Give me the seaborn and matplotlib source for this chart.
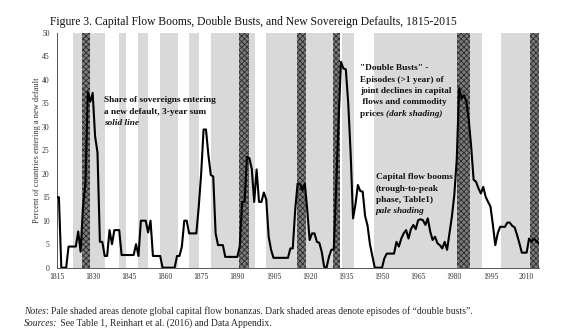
import matplotlib
matplotlib.use("Agg")
import matplotlib.pyplot as plt
import seaborn as sns
import numpy as np
import pandas as pd

# ---------------- data ----------------
start_year = 1815
share_new_default = [
    15, 15, 0, 0, 0, 4.5, 4.5, 4.5, 4.5, 7.7,            # 1815-1824
    3.4, 13, 18, 37.4, 35.3, 37.2, 28, 24.5, 5.5, 5.5,    # 1825-1834
    2.5, 2.5, 8, 5, 8, 8, 8, 2.7, 2.7, 2.7,               # 1835-1844
    2.7, 2.7, 2.7, 5, 2.5, 10, 10, 10, 7.5, 10,           # 1845-1854
    2.5, 2.5, 2.5, 2.5, 0, 0, 0, 0, 0, 0,                 # 1855-1864
    2.5, 2.5, 4.5, 10, 10, 7.3, 7.3, 7.3, 7.3, 13,        # 1865-1874
    20, 29.4, 29.4, 24, 19.7, 19.4, 7.3, 4.8, 4.8, 4.8,   # 1875-1884
    2.3, 2.3, 2.3, 2.3, 2.3, 2.3, 4.5, 14, 14, 23.6,      # 1885-1894
    23.3, 21, 14, 20.9, 14, 14, 16, 14.5, 6.6, 3.8,       # 1895-1904
    2.1, 2.1, 2.1, 2.1, 2.1, 2.1, 2.1, 4.1, 4.1, 12.3,    # 1905-1914
    17.9, 17.8, 16.5, 17.9, 12.3, 5.9, 7.3, 7.3, 5.5, 5.3,  # 1915-1924
    3.4, 0.2, 0, 2.3, 3.8, 3.9, 17.2, 31.4, 43.8, 42.4,   # 1925-1934
    42.2, 35, 24.3, 10.5, 13.5, 17.6, 16.3, 16.2, 11, 9,  # 1935-1944
    5, 2.5, 0, 0, 0, 0, 2, 3, 3, 3,                       # 1945-1954
    3, 5.5, 4.5, 6.2, 7.3, 8, 6.2, 8.2, 9.1, 8.2,         # 1955-1964
    10.1, 10.3, 10.1, 9.1, 10.5, 7.7, 5.9, 6.6, 5.2, 4.8, # 1965-1974
    4.1, 5.5, 3.8, 7.3, 10.9, 15.5, 22.9, 38.2, 36, 36.7, # 1975-1984
    35.3, 31.4, 25.7, 18.7, 18.3, 16.9, 15.8, 17.2, 15.1, 14,  # 1985-1994
    13, 9.1, 4.8, 7.3, 8.7, 8.7, 8.7, 9.6, 9.6, 8.9,      # 1995-2004
    8.6, 7, 5.2, 3.2, 3.2, 3.2, 6.2, 5.5, 6.2, 5.7,       # 2005-2014
    5.2,                                                  # 2015
]
years = list(range(start_year, start_year + len(share_new_default)))

boom_periods = [(1822, 1826), (1829, 1835), (1841, 1844), (1849, 1853),
                (1858, 1865.5), (1870, 1874), (1879, 1891), (1895, 1897.5),
                (1901.7, 1915), (1918.5, 1929.5), (1933.6, 1938.4),
                (1946.7, 1981.5), (1986.5, 1991.4), (1999.4, 2011.3)]
double_bust_periods = [(1825.5, 1829), (1890.5, 1894.8), (1914.7, 1918.5),
                       (1929.6, 1932.6), (1981.3, 1986.5), (2011.3, 2015)]

x_ticks = list(range(1815, 2011, 15))
y_ticks = list(range(0, 51, 5))

# annotation lines: (text, style)
share_lines = [('Share of sovereigns entering', 'normal'),
               ('a new default, 3-year sum', 'normal'),
               ('solid line', 'italic')]
busts_lines = ['"Double Busts" -', 'Episodes (>1 year) of',
               'joint declines in capital', ' flows and commodity']
booms_lines = [('Capital flow booms', 'normal'), ('(trough-to-peak', 'normal'),
               ('phase, Table1)', 'normal'), ('pale shading', 'italic')]

# ---------------- style ----------------
sns.set_style("white")
plt.rcParams['font.family'] = ['Liberation Serif', 'DejaVu Serif']
plt.rcParams['hatch.linewidth'] = 0.6

fig = plt.figure(figsize=(5.86, 3.29), dpi=100)
ax = fig.add_axes([56.5 / 586, 1 - 267.7 / 329, (538.7 - 56.5) / 586, (267.7 - 32.7) / 329])

for a, b in boom_periods:
    ax.axvspan(a, b, facecolor='#d9d9d9', edgecolor='none', lw=0, zorder=0)
for a, b in double_bust_periods:
    ax.axvspan(a, b, facecolor='#7c7c7c', edgecolor='#2b2b2b', hatch='xxxxxx',
               lw=0, zorder=1)

df = pd.DataFrame({'year': years, 'share': share_new_default})
sns.lineplot(data=df, x='year', y='share', color='black', lw=1.5, ax=ax, zorder=3)

ax.set_xlim(1815, 2015)
ax.set_ylim(0, 50)
ax.set_xticks(x_ticks)
ax.set_yticks(y_ticks)
ax.tick_params(axis='both', labelsize=5.5, colors='#333333', length=0, pad=4)
ax.tick_params(axis='y', length=2, width=0.6, color='#555555', pad=3)
ax.set_xlabel('')
ax.set_ylabel('Percent of countries entering a new default', fontsize=6, color='#333333', labelpad=1)
for s in ['top', 'right']:
    ax.spines[s].set_visible(False)
for s in ['left', 'bottom']:
    ax.spines[s].set_color('#555555')
    ax.spines[s].set_linewidth(0.7)

# annotations
fs_ann = 6.7
ann_kw = dict(fontsize=fs_ann, fontweight='bold', color='#111111', va='center', ha='left')
for i, (txt, st) in enumerate(share_lines):
    ax.text(1834.8, 35.6 - i * 2.38, txt, style=st, **ann_kw)
for i, txt in enumerate(busts_lines):
    ax.text(1940.9, 42.4 - i * 2.4, txt, **ann_kw)
t1 = ax.text(1940.9, 42.4 - 4 * 2.4, 'prices ', **ann_kw)
ax.annotate('(dark shading)', xy=(1, 0.5), xycoords=t1, va='center', ha='left',
            fontsize=fs_ann, fontweight='bold', style='italic', color='#111111')
for i, (txt, st) in enumerate(booms_lines):
    ax.text(1947.4, 19.2 - i * 2.37, txt, style=st, **ann_kw)

# title & notes
fig.text(50 / 586, 1 - 22.5 / 329, 'Figure 3. Capital Flow Booms, Double Busts, and New Sovereign Defaults, 1815-2015',
         fontsize=8.4, va='center', ha='left', color='#111111')

n1 = fig.text(24 / 586, 1 - 311 / 329, 'Notes', style='italic', fontsize=6.9, va='center', ha='left')
ax.annotate(': Pale shaded areas denote global capital flow bonanzas. Dark shaded areas denote episodes of \u201cdouble busts\u201d.',
            xy=(1, 0), xycoords=n1, va='bottom', ha='left', fontsize=6.9, annotation_clip=False)
n2 = fig.text(24 / 586, 1 - 323 / 329, 'Sources:', style='italic', fontsize=6.9, va='center', ha='left')
ax.annotate(' See Table 1, Reinhart et al. (2016) and Data Appendix.',
            xy=(1, 0), xycoords=n2, va='bottom', ha='left', fontsize=6.9, annotation_clip=False)

fig.savefig('out.png', dpi=100)
